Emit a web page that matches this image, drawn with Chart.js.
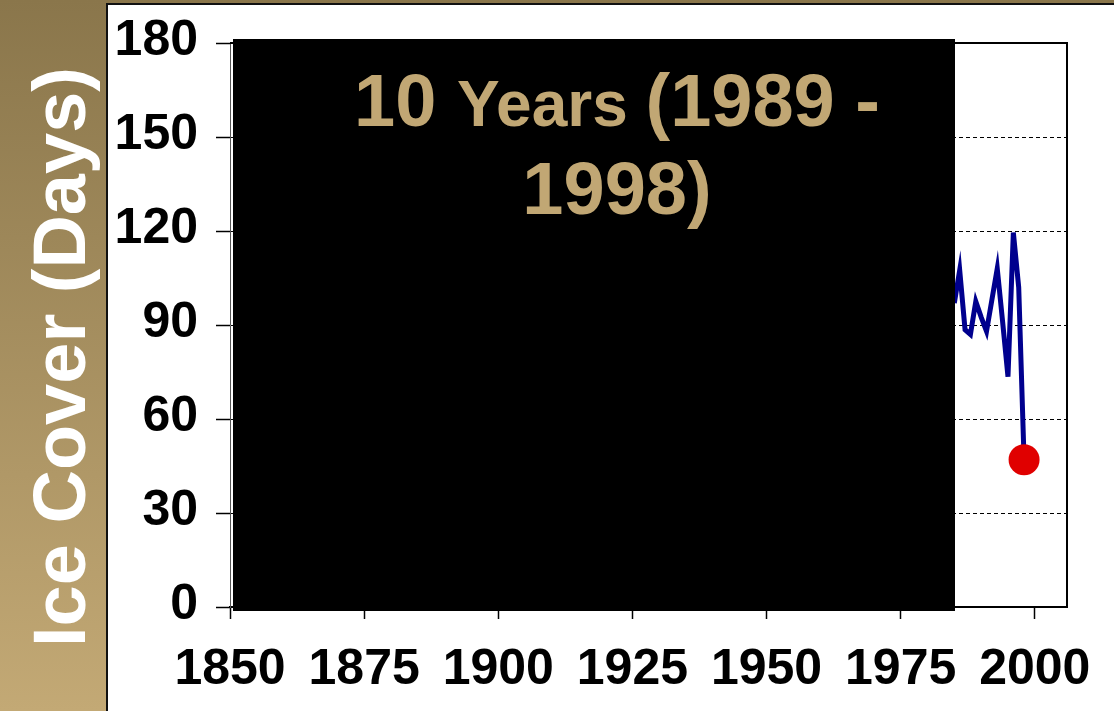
<!DOCTYPE html>
<html>
<head>
<meta charset="utf-8">
<script src="https://cdn.jsdelivr.net/npm/chart.js@4.4.1/dist/chart.umd.min.js"></script>
<style>
  html, body { margin: 0; padding: 0; background: #fff; overflow: hidden; }
  #wrap { width: 1114px; height: 711px; }
  canvas { display: block; }
</style>
</head>
<body>
<div id="wrap"><canvas id="chart" width="1114" height="711"></canvas></div>
<script>
// Winter ice cover, days per season
const years   = [1985, 1986, 1987, 1988, 1989, 1990, 1991, 1992, 1993, 1994, 1995, 1996, 1997, 1998];
const iceDays = [97, 107.5, 88.5, 87, 97.5, 92.5, 88, 98, 108, 91, 73.5, 119.5, 102, 47];

// Axis ticks
const xTicks = [1850, 1875, 1900, 1925, 1950, 1975, 2000];
const yTicks = [0, 30, 60, 90, 120, 150, 180];

// Text
const axisTitle = 'Ice Cover (Days)';
const panelTitle = [
  [{ t: '10 ', big: true }, { t: 'Years ', big: false }, { t: '(1989 -', big: true }],
  [{ t: '1998)', big: true }]
];
// Earlier record is blacked out up to this season
const coveredThrough = 1985;

const FONT = '"Liberation Sans", Arial, Helvetica, sans-serif';
const TAN = '#c1a774';

// Brown side panel with white chart card
const backdrop = {
  id: 'backdrop',
  beforeDraw(chart) {
    const { ctx, width, height } = chart;
    ctx.save();
    const g = ctx.createLinearGradient(0, 0, 0, height);
    g.addColorStop(0, '#8a764b');
    g.addColorStop(1, '#c3a975');
    ctx.fillStyle = g;
    ctx.fillRect(0, 0, width, height);
    ctx.fillStyle = '#ffffff';
    ctx.fillRect(107, 4, width - 107, height - 4);
    ctx.strokeStyle = '#111';
    ctx.lineWidth = 2;
    ctx.beginPath();
    ctx.moveTo(107, height);
    ctx.lineTo(107, 4);
    ctx.lineTo(width, 4);
    ctx.stroke();

    // rotated axis title
    ctx.translate(85, 357);
    ctx.rotate(-Math.PI / 2);
    ctx.fillStyle = '#ffffff';
    ctx.font = 'bold 74px ' + FONT;
    ctx.textAlign = 'center';
    ctx.textBaseline = 'alphabetic';
    ctx.fillText(axisTitle, 0, 0);
    ctx.restore();
  }
};

// Plot frame, black cover box and headline
const overlay = {
  id: 'overlay',
  afterDatasetsDraw(chart) {
    const { ctx, chartArea: a, scales } = chart;
    ctx.save();
    // frame top and right
    ctx.strokeStyle = '#000';
    ctx.lineWidth = 2;
    ctx.beginPath();
    ctx.moveTo(a.left, a.top);
    ctx.lineTo(a.right, a.top);
    ctx.lineTo(a.right, a.bottom);
    ctx.stroke();

    // cover box
    const boxRight = Math.round(scales.x.getPixelForValue(coveredThrough)) + 1;
    ctx.fillStyle = '#000';
    ctx.fillRect(a.left + 3, a.top - 4, boxRight - (a.left + 3), a.bottom - a.top + 8);

    // headline
    ctx.fillStyle = TAN;
    ctx.textBaseline = 'alphabetic';
    ctx.textAlign = 'left';
    const cx = a.left + 387;
    const baselines = [a.top + 83, a.top + 171];
    panelTitle.forEach((parts, i) => {
      let total = 0;
      parts.forEach(p => {
        ctx.font = 'bold ' + (p.big ? 74 : 64) + 'px ' + FONT;
        p.w = ctx.measureText(p.t).width;
        total += p.w;
      });
      let x = cx - total / 2;
      parts.forEach(p => {
        ctx.font = 'bold ' + (p.big ? 74 : 64) + 'px ' + FONT;
        ctx.fillText(p.t, x, baselines[i]);
        x += p.w;
      });
    });
    ctx.restore();
  }
};

const lastIndex = iceDays.length - 1;

new Chart(document.getElementById('chart'), {
  type: 'line',
  data: {
    datasets: [{
      data: years.map((y, i) => ({ x: y, y: iceDays[i] })),
      borderColor: '#00008e',
      borderWidth: 5,
      tension: 0,
      fill: false,
      pointRadius: c => (c.dataIndex === lastIndex ? 15.5 : 0),
      pointHoverRadius: c => (c.dataIndex === lastIndex ? 15.5 : 0),
      pointBackgroundColor: '#e00000',
      pointBorderWidth: 0,
      pointBorderColor: '#e00000'
    }]
  },
  options: {
    responsive: false,
    devicePixelRatio: 1,
    animation: false,
    events: [],
    layout: { padding: { left: 107, top: 43, right: 47, bottom: 0 } },
    plugins: { legend: { display: false }, tooltip: { enabled: false } },
    scales: {
      x: {
        type: 'linear',
        min: 1850,
        max: 2006,
        afterBuildTicks: s => { s.ticks = xTicks.map(v => ({ value: v })); },
        afterFit: s => { s.height = 104; s.paddingLeft = 0; s.paddingRight = 0; },
        grid: {
          drawOnChartArea: false,
          drawTicks: true,
          tickLength: 12,
          tickColor: '#000',
          tickWidth: 1.5
        },
        border: { display: true, color: '#000', width: 2 },
        ticks: {
          color: '#000',
          font: { family: FONT, size: 50, weight: 'bold' },
          padding: 21,
          maxRotation: 0,
          autoSkip: false,
          callback: v => String(v)
        }
      },
      y: {
        min: 0,
        max: 180,
        afterBuildTicks: s => { s.ticks = yTicks.map(v => ({ value: v })); },
        afterFit: s => { s.width = 123; s.paddingTop = 0; s.paddingBottom = 0; },
        grid: {
          color: c => (c.tick && (c.tick.value === 0 || c.tick.value === 180)) ? 'rgba(0,0,0,0)' : '#000',
          lineWidth: 1,
          drawTicks: true,
          tickLength: 14,
          tickColor: '#000',
          tickWidth: 1.5,
          tickBorderDash: []
        },
        border: { display: true, color: '#555', width: 1, dash: [4, 3] },
        ticks: {
          color: '#000',
          font: { family: FONT, size: 50, weight: 'bold' },
          padding: 18,
          labelOffset: -2,
          callback: v => String(v)
        }
      }
    }
  },
  plugins: [backdrop, overlay]
});
</script>
</body>
</html>
